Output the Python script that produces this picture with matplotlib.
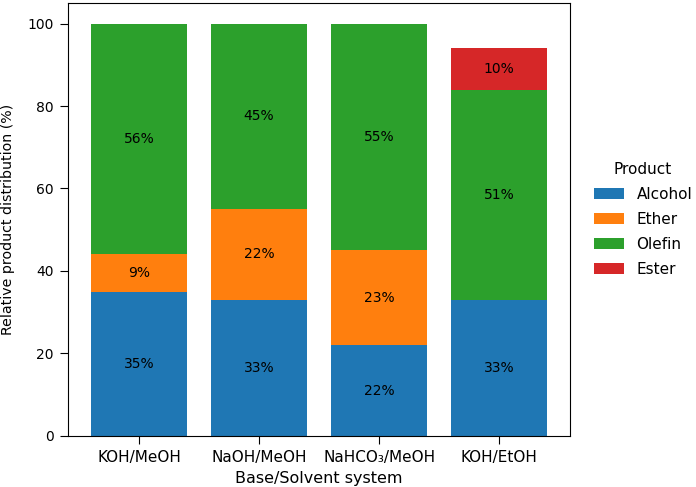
import matplotlib
matplotlib.use("Agg")
import matplotlib.pyplot as plt
import numpy as np

categories = ["KOH/MeOH", "NaOH/MeOH", "NaHCO₃/MeOH", "KOH/EtOH"]
products = ["Alcohol", "Ether", "Olefin", "Ester"]
alcohol = [35, 33, 22, 33]
ether = [9, 22, 23, 0]
olefin = [56, 45, 55, 51]
ester = [0, 0, 0, 10]
series = [alcohol, ether, olefin, ester]
colors = ["#1f77b4", "#ff7f0e", "#2ca02c", "#d62728"]

fig = plt.figure(figsize=(6.96, 4.87), dpi=100)
ax = fig.add_axes([0.098, 0.105, 0.721, 0.889])
x = np.arange(len(categories))
bottom = np.zeros(len(categories))
for name, vals, c in zip(products, series, colors):
    vals = np.array(vals, dtype=float)
    ax.bar(x, vals, 0.8, bottom=bottom, color=c, label=name)
    for xi, v, b in zip(x, vals, bottom):
        if v > 0:
            ax.text(xi, b + v / 2, f"{int(v)}%", ha="center", va="center", fontsize=10)
    bottom += vals

ax.set_ylim(0, 105)
ax.set_xticks(x)
ax.set_xticklabels(categories, fontsize=11)
ax.tick_params(axis="y", labelsize=10, length=5.5, pad=5)
ax.tick_params(axis="x", length=5.5, pad=5)
ax.set_xlabel("Base/Solvent system", fontsize=11.5, labelpad=4)
ax.set_ylabel("Relative product distribution (%)", fontsize=10.2, labelpad=9)
leg = ax.legend(title="Product", frameon=False, loc="center left",
                bbox_to_anchor=(1.02, 0.5), fontsize=11, title_fontsize=11,
                labelspacing=0.65)
fig.savefig("out.png", dpi=100)
